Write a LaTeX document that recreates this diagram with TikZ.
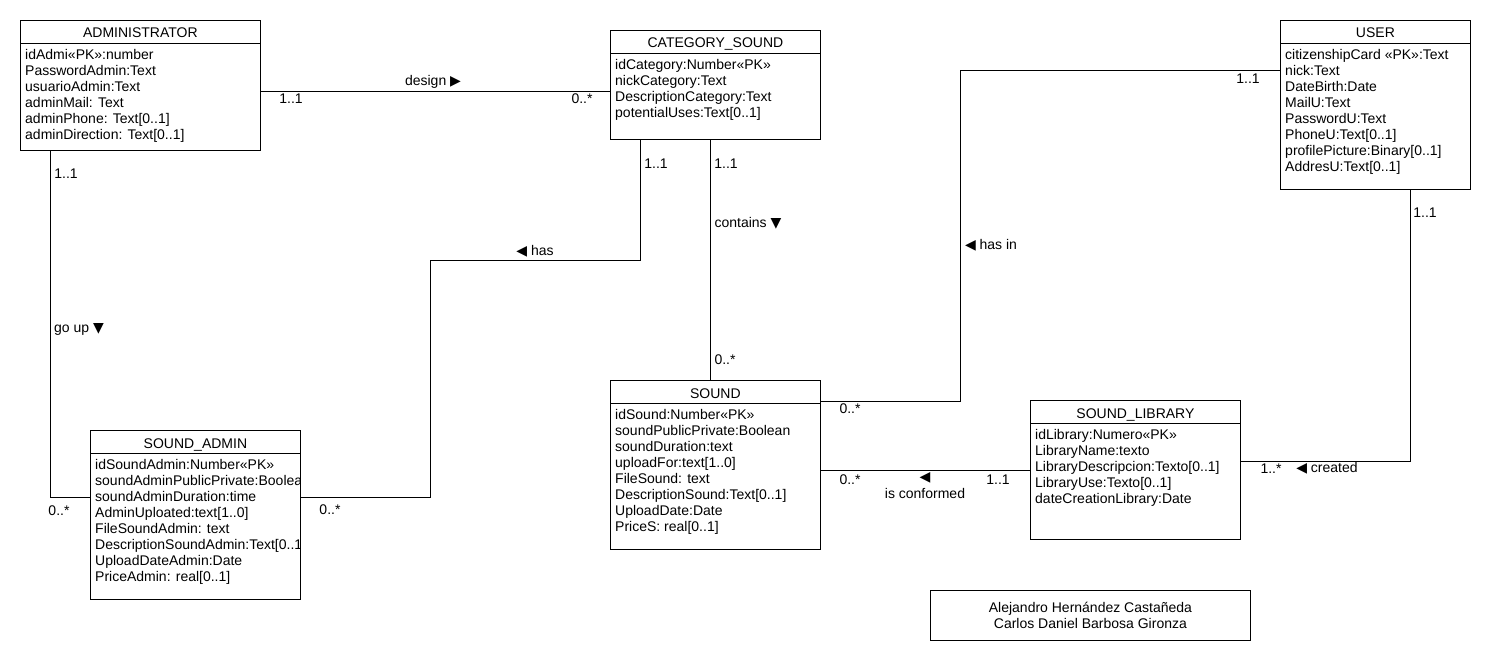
\documentclass[tikz,border=0pt]{standalone}
\usepackage{fontspec}
\setmainfont{Liberation Sans}
\newfontfamily\symfont{DejaVu Sans}
\usetikzlibrary{calc}

\newcommand{\rtri}{{\symfont\fontsize{14}{14}\selectfont ▶}}
\newcommand{\ltri}{{\symfont\fontsize{14}{14}\selectfont ◀}}
\newcommand{\dtri}{{\symfont\fontsize{14}{14}\selectfont ▼}}

\tikzset{
  classbox/.style={draw,line width=0.8pt,inner sep=0pt,anchor=north west},
  classtitle/.style={inner sep=0pt,anchor=base,font=\fontsize{14}{16}\selectfont},
  classattr/.style={inner sep=0pt,anchor=north west,align=left,
    font=\fontsize{14}{16}\selectfont,execute at begin node=\rule{0pt}{12pt}},
  lbl/.style={inner sep=0pt,anchor=base,font=\fontsize{14}{16}\selectfont},
  assoc/.style={line width=0.8pt}
}

\begin{document}
\begin{tikzpicture}[x=1pt,y=1pt]
\useasboundingbox (0,0) rectangle (1490,-660);

% ADMINISTRATOR
\node[classbox,minimum width=240pt,minimum height=130pt] (Adm) at (20,-20) {};
\node[classtitle] (AdmT) at ([yshift=-18pt]Adm.north) {ADMINISTRATOR};
\draw[assoc] ([yshift=-23pt]Adm.north west) -- ([yshift=-23pt]Adm.north east);
\node[classattr] (AdmA) at ([xshift=5pt,yshift=-29pt]Adm.north west)
  {idAdmi«PK»:number\\PasswordAdmin:Text\\usuarioAdmin:Text\\adminMail: Text\\
   adminPhone: Text[0..1]\\adminDirection: Text[0..1]};

% CATEGORY_SOUND
\node[classbox,minimum width=210pt,minimum height=109pt] (Cat) at (610,-30) {};
\node[classtitle] (CatT) at ([yshift=-18pt]Cat.north) {CATEGORY\_SOUND};
\draw[assoc] ([yshift=-23pt]Cat.north west) -- ([yshift=-23pt]Cat.north east);
\node[classattr] (CatA) at ([xshift=5pt,yshift=-29pt]Cat.north west)
  {idCategory:Number«PK»\\nickCategory:Text\\DescriptionCategory:Text\\potentialUses:Text[0..1]};

% USER
\node[classbox,minimum width=190pt,minimum height=169pt] (Usr) at (1280,-20) {};
\node[classtitle] (UsrT) at ([yshift=-18pt]Usr.north) {USER};
\draw[assoc] ([yshift=-23pt]Usr.north west) -- ([yshift=-23pt]Usr.north east);
\node[classattr] (UsrA) at ([xshift=5pt,yshift=-29pt]Usr.north west)
  {citizenshipCard «PK»:Text\\nick:Text\\DateBirth:Date\\MailU:Text\\PasswordU:Text\\
   PhoneU:Text[0..1]\\profilePicture:Binary[0..1]\\AddresU:Text[0..1]};

% SOUND_ADMIN
\node[classbox,minimum width=210pt,minimum height=169pt] (SAdm) at (90,-430) {};
\node[classtitle] (SAdmT) at ([yshift=-18pt]SAdm.north) {SOUND\_ADMIN};
\draw[assoc] ([yshift=-23pt]SAdm.north west) -- ([yshift=-23pt]SAdm.north east);
\begin{scope}
\clip (SAdm.north west) rectangle (SAdm.south east);
\node[classattr] (SAdmA) at ([xshift=5pt,yshift=-29pt]SAdm.north west)
  {idSoundAdmin:Number«PK»\\soundAdminPublicPrivate:Boolean\\soundAdminDuration:time\\
   AdminUploated:text[1..0]\\FileSoundAdmin: text\\DescriptionSoundAdmin:Text[0..1]\\
   UploadDateAdmin:Date\\PriceAdmin: real[0..1]};
\end{scope}

% SOUND
\node[classbox,minimum width=210pt,minimum height=169pt] (Snd) at (610,-380) {};
\node[classtitle] (SndT) at ([yshift=-18pt]Snd.north) {SOUND};
\draw[assoc] ([yshift=-23pt]Snd.north west) -- ([yshift=-23pt]Snd.north east);
\node[classattr] (SndA) at ([xshift=5pt,yshift=-29pt]Snd.north west)
  {idSound:Number«PK»\\soundPublicPrivate:Boolean\\soundDuration:text\\uploadFor:text[1..0]\\
   FileSound: text\\DescriptionSound:Text[0..1]\\UploadDate:Date\\PriceS: real[0..1]};

% SOUND_LIBRARY
\node[classbox,minimum width=210pt,minimum height=139pt] (Lib) at (1030,-400) {};
\node[classtitle] (LibT) at ([yshift=-18pt]Lib.north) {SOUND\_LIBRARY};
\draw[assoc] ([yshift=-23pt]Lib.north west) -- ([yshift=-23pt]Lib.north east);
\node[classattr] (LibA) at ([xshift=5pt,yshift=-29pt]Lib.north west)
  {idLibrary:Numero«PK»\\LibraryName:texto\\LibraryDescripcion:Texto[0..1]\\
   LibraryUse:Texto[0..1]\\dateCreationLibrary:Date};

% authors
\node[draw,line width=0.8pt,anchor=north west,minimum width=320pt,minimum height=50pt,
  align=center,font=\fontsize{14}{16}\selectfont] (Auth) at (930,-590)
  {Alejandro Hernández Castañeda\\Carlos Daniel Barbosa Gironza};

% associations
\coordinate (hasB) at (430,-260);
\coordinate (hasinB) at (960,-70);

\draw[assoc] ([yshift=-6pt]Adm.east) -- ([yshift=-6pt]Adm.east -| Cat.west);
\draw[assoc] ([xshift=30pt]Adm.south west) |- ([yshift=17.5pt]SAdm.west);
\draw[assoc] ([yshift=17.5pt]SAdm.east) -| (hasB) -| ([xshift=-75pt]Cat.south);
\draw[assoc] ([xshift=-5pt]Cat.south) -- ([xshift=-5pt]Cat.south |- Snd.north);
\draw[assoc] ([yshift=63.5pt]Snd.east) -| (hasinB) -- (hasinB -| Usr.west);
\draw[assoc] ([yshift=-5.5pt]Snd.east) -- ([yshift=-5.5pt]Snd.east -| Lib.west);
\draw[assoc] ([yshift=8.5pt]Lib.east) -| ([xshift=35pt]Usr.south);

% labels
\node[lbl] (desL) at (433,-86) {design \rtri};
\node[lbl] (des1) at (291,-104) {1..1};
\node[lbl] (des2) at (582,-104) {0..*};

\node[lbl] (upL) at (79,-332) {go up \dtri};
\node[lbl] (up1) at (66,-179) {1..1};
\node[lbl] (up2) at (59,-515) {0..*};

\node[lbl] (hasL) at (535,-256) {\ltri\ has};
\node[lbl] (has1) at (656,-169) {1..1};
\node[lbl] (has2) at (330,-514) {0..*};

\node[lbl] (conL) at (748,-228) {contains \dtri};
\node[lbl] (con1) at (726,-169) {1..1};
\node[lbl] (con2) at (725,-364) {0..*};

\node[lbl] (hinL) at (991,-250) {\ltri\ has in};
\node[lbl] (hin1) at (1248,-84) {1..1};
\node[lbl] (hin2) at (850,-413) {0..*};

\node[lbl] (cnfA) at (925,-481) {\ltri};
\node[lbl] (cnfL) at (925,-498) {is conformed};
\node[lbl] (cnf1) at (998,-484) {1..1};
\node[lbl] (cnf2) at (850,-484) {0..*};

\node[lbl] (creL) at (1327,-472) {\ltri\ created};
\node[lbl] (cre1) at (1425,-218) {1..1};
\node[lbl] (cre2) at (1271,-473) {1..*};

\end{tikzpicture}
\end{document}
